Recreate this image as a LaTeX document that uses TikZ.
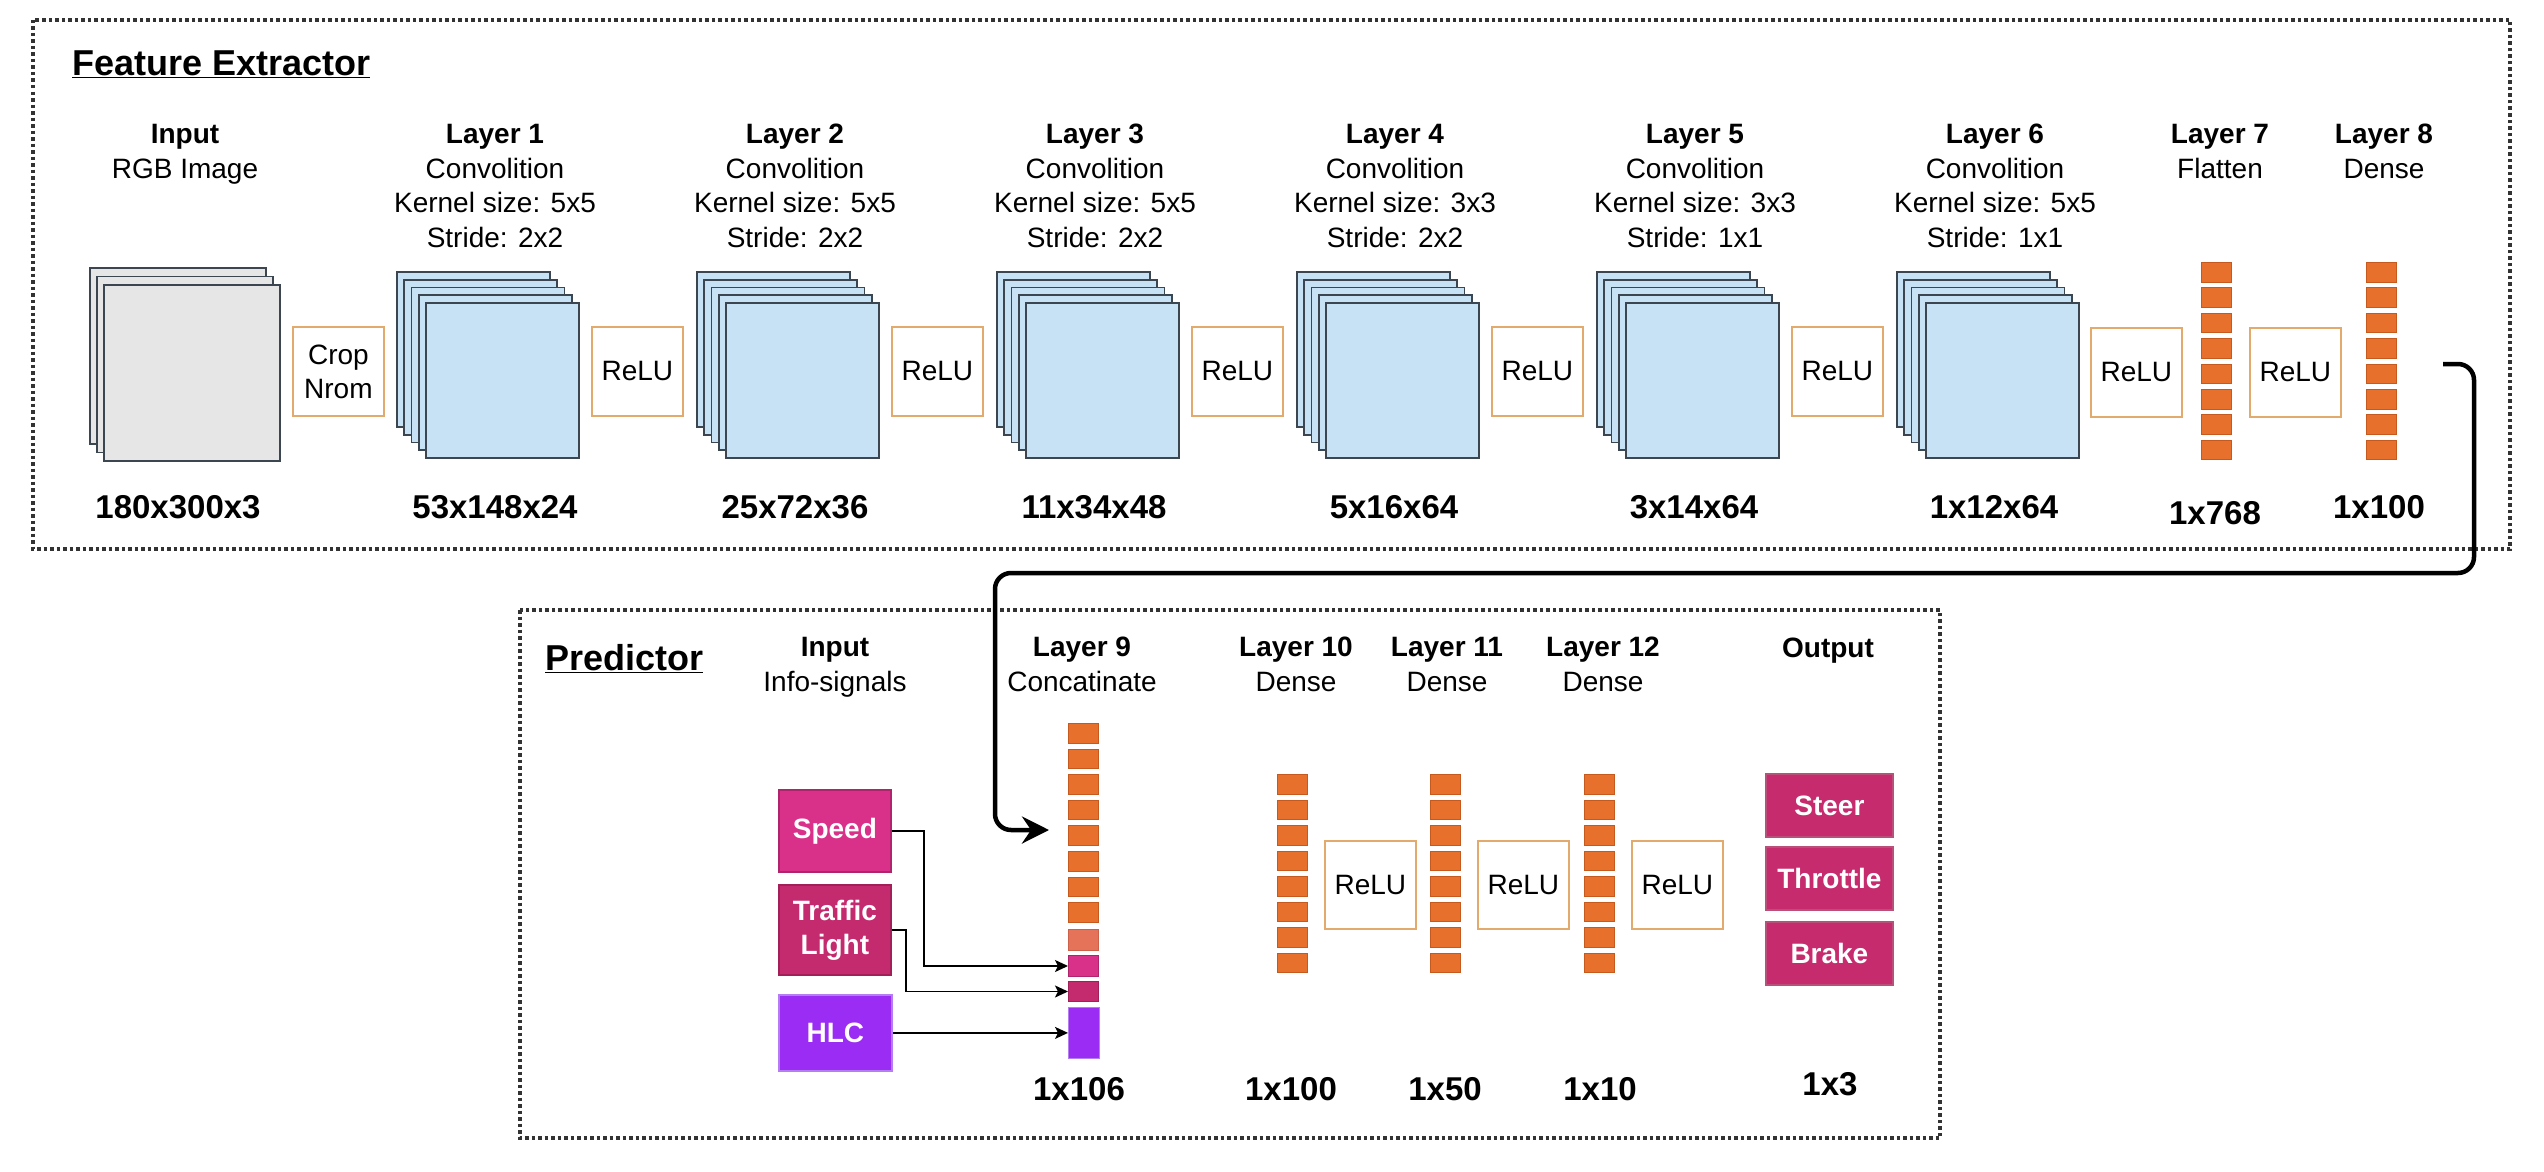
\documentclass[tikz,border=0pt]{standalone}
\usepackage{fontspec}
\setmainfont{Liberation Sans}
\usetikzlibrary{arrows.meta}
\definecolor{convblue}{HTML}{C7E1F5}
\definecolor{sheetdraw}{HTML}{3C4650}
\definecolor{imggray}{HTML}{E6E6E6}
\definecolor{reluorange}{HTML}{E2AA6C}
\definecolor{sqorange}{HTML}{E8702D}
\definecolor{sqborder}{HTML}{C65A1E}
\definecolor{salmon}{HTML}{E4735A}
\definecolor{salmonb}{HTML}{CC6048}
\definecolor{speedpink}{HTML}{D9308A}
\definecolor{speedb}{HTML}{B0246E}
\definecolor{tlpink}{HTML}{C42A6E}
\definecolor{tlb}{HTML}{A21F58}
\definecolor{hlcpurple}{HTML}{9A2CF3}
\definecolor{hlcb}{HTML}{B57DF2}
\definecolor{outpink}{HTML}{C62B6E}
\definecolor{outb}{HTML}{B8507A}
\definecolor{framegray}{HTML}{333333}
\newcommand\myfs[2]{\fontsize{#1}{#2}\selectfont}
\begin{document}
\begin{tikzpicture}[x=1pt,y=-1pt,
  frame/.style={draw=framegray,line width=3.5pt,dash pattern=on 3.5pt off 3pt},
  sheet/.style={draw=sheetdraw,line width=1.8pt,fill=convblue,minimum width=153pt,minimum height=155pt,inner sep=0pt,anchor=north west},
  insheet/.style={draw=sheetdraw,line width=1.8pt,fill=imggray,minimum width=176pt,minimum height=176pt,inner sep=0pt,anchor=north west},
  relu/.style={draw=reluorange,line width=1.8pt,fill=white,minimum width=91pt,minimum height=89pt,inner sep=0pt,anchor=north west,font=\myfs{28}{34},align=center},
  sq/.style={draw=sqborder,line width=1pt,fill=sqorange,minimum width=30pt,minimum height=19.5pt,inner sep=0pt,anchor=north west},
  hdr/.style={font=\myfs{28}{34}\bfseries,anchor=base,inner sep=0pt},
  sub/.style={font=\myfs{28}{34},anchor=base,inner sep=0pt},
  dim/.style={font=\myfs{33}{38}\bfseries,anchor=base,inner sep=0pt},
  ttl/.style={font=\myfs{36}{40}\bfseries,anchor=base west,inner sep=0pt},
  sig/.style={line width=1.8pt,text=white,font=\myfs{28}{34}\bfseries,align=center,inner sep=0pt,anchor=north west,minimum width=112pt},
  bigarr/.style={line width=4.5pt,rounded corners=16pt,-{Stealth[length=27pt,width=27pt,inset=9pt]}},
  sarr/.style={line width=1.5pt,-{Stealth[length=13pt,width=12pt,inset=3pt]}}
]
\useasboundingbox (0,0) rectangle (2544,1172);
\fill[white] (0,0) rectangle (2544,1172);

% frames
\draw[frame] (33,20) rectangle (2510,549);
\draw[frame] (520,610) rectangle (1940,1138);

% titles
\node[ttl] (fe) at (72,75) {\underline{Feature Extractor}};
\node[ttl] (pr) at (545,670) {\underline{Predictor}};

% input stack
\foreach \k in {0,1,2}
  \node[insheet] (in\k) at ({89+7*\k},{267+8.5*\k}) {};

% conv stacks
\foreach \L in {1,...,6}
  \foreach \k in {0,...,4}
    \node[sheet] (s\L-\k) at ({396+300*(\L-1)+7.25*\k},{271+7.75*\k}) {};

% crop / relu boxes
\node[relu] (r0) at (292,326) {Crop\\Nrom};
\foreach \k in {1,...,5}
  \node[relu] (r\k) at ({591+300*(\k-1)},326) {ReLU};
\node[relu] (r6) at (2090,327) {ReLU};
\node[relu] (r7) at (2249,327) {ReLU};

% flatten / dense columns
\foreach \k in {0,...,7} {
  \node[sq] (c7-\k) at (2201,{262+25.4*\k}) {};
  \node[sq] (c8-\k) at (2366,{262+25.4*\k}) {};
}

% headers top
\node[hdr] (hin) at (185,143) {Input};
\node[sub] (hin-a) at (185,178) {RGB Image};
\foreach \L/\ks/\st in {1/5x5/2x2,2/5x5/2x2,3/5x5/2x2,4/3x3/2x2,5/3x3/1x1,6/5x5/1x1} {
  \node[hdr] (h\L) at ({495+300*(\L-1)},143) {Layer \L};
  \node[sub] (h\L-a) at ({495+300*(\L-1)},178) {Convolition};
  \node[sub] (h\L-b) at ({495+300*(\L-1)},212) {Kernel size: \ks};
  \node[sub] (h\L-c) at ({495+300*(\L-1)},247) {Stride: \st};
}
\node[hdr] (h7) at (2220,143) {Layer 7};
\node[sub] (h7-a) at (2220,178) {Flatten};
\node[hdr] (h8) at (2384,143) {Layer 8};
\node[sub] (h8-a) at (2384,178) {Dense};

% dims top
\foreach \x/\t [count=\i] in {178/180x300x3,495/53x148x24,795/25x72x36,1094/11x34x48,1394/5x16x64,1694/3x14x64,1994/1x12x64,2379/1x100}
  \node[dim] (d\i) at (\x,518) {\t};
\node[dim] (d768) at (2215,524) {1x768};

% predictor headers
\node[hdr] (pin) at (835,656) {Input};
\node[sub] (pin-a) at (835,691) {Info-signals};
\node[hdr] (h9) at (1082,656) {Layer 9};
\node[sub] (h9-a) at (1082,691) {Concatinate};
\node[hdr] (h10) at (1296,656) {Layer 10};
\node[sub] (h10-a) at (1296,691) {Dense};
\node[hdr] (h11) at (1447,656) {Layer 11};
\node[sub] (h11-a) at (1447,691) {Dense};
\node[hdr] (h12) at (1603,656) {Layer 12};
\node[sub] (h12-a) at (1603,691) {Dense};
\node[hdr] (hout) at (1828,657) {Output};

% input signals
\node[sig,fill=speedpink,draw=speedb,minimum height=82pt] (speed) at (778,789) {Speed};
\node[sig,fill=tlpink,draw=tlb,minimum height=90pt] (tl) at (778,884) {Traffic\\Light};
\node[sig,fill=hlcpurple,draw=hlcb,minimum height=76pt,minimum width=113pt] (hlc) at (778,994) {HLC};

% layer 9 column
\foreach \k in {0,...,7}
  \node[sq] (c9-\k) at (1068,{723+25.6*\k}) {};
\node[sq,fill=salmon,draw=salmonb,minimum height=21pt] (c9-s) at (1068,929) {};
\node[sq,fill=speedpink,draw=speedb,minimum height=21pt] (c9-p) at (1068,955) {};
\node[sq,fill=tlpink,draw=tlb,minimum height=20pt] (c9-t) at (1068,981) {};
\node[sq,fill=hlcpurple,draw=hlcb,minimum height=51pt,minimum width=31pt] (c9-h) at (1068,1007) {};

% layers 10-12 columns
\foreach \x [count=\i from 10] in {1277,1430,1584}
  \foreach \k in {0,...,7}
    \node[sq] (c\i-\k) at (\x,{774+25.5*\k}) {};

% relus bottom
\node[relu,minimum height=88pt] (r10) at (1324,840) {ReLU};
\node[relu,minimum height=88pt] (r11) at (1477,840) {ReLU};
\node[relu,minimum height=88pt] (r12) at (1631,840) {ReLU};

% outputs
\node[sig,fill=outpink,draw=outb,minimum width=127pt,minimum height=63pt] (steer) at (1765,773) {Steer};
\node[sig,fill=outpink,draw=outb,minimum width=127pt,minimum height=63pt] (thr) at (1765,846) {Throttle};
\node[sig,fill=outpink,draw=outb,minimum width=127pt,minimum height=63pt] (brk) at (1765,921) {Brake};

% dims bottom
\node[dim] (d106) at (1079,1100) {1x106};
\node[dim] (d10a) at (1291,1100) {1x100};
\node[dim] (d11a) at (1445,1100) {1x50};
\node[dim] (d12a) at (1600,1100) {1x10};
\node[dim] (dout) at (1830,1095) {1x3};

% connectors
\draw[sarr] (speed.east) -- ++(32,0) |- (c9-p.west);
\draw[sarr] (tl.east) -- ++(14,0) |- (c9-t.west);
\draw[sarr] (hlc.east) -- (hlc.east -| c9-h.west);

\coordinate (a0) at (2443,364);
\coordinate (a1) at (1049,830);
\draw[bigarr] (a0) -- (2474,364) -- (2474,573) -- (995,573) -- (995,830) -- (a1);
\end{tikzpicture}
\end{document}
